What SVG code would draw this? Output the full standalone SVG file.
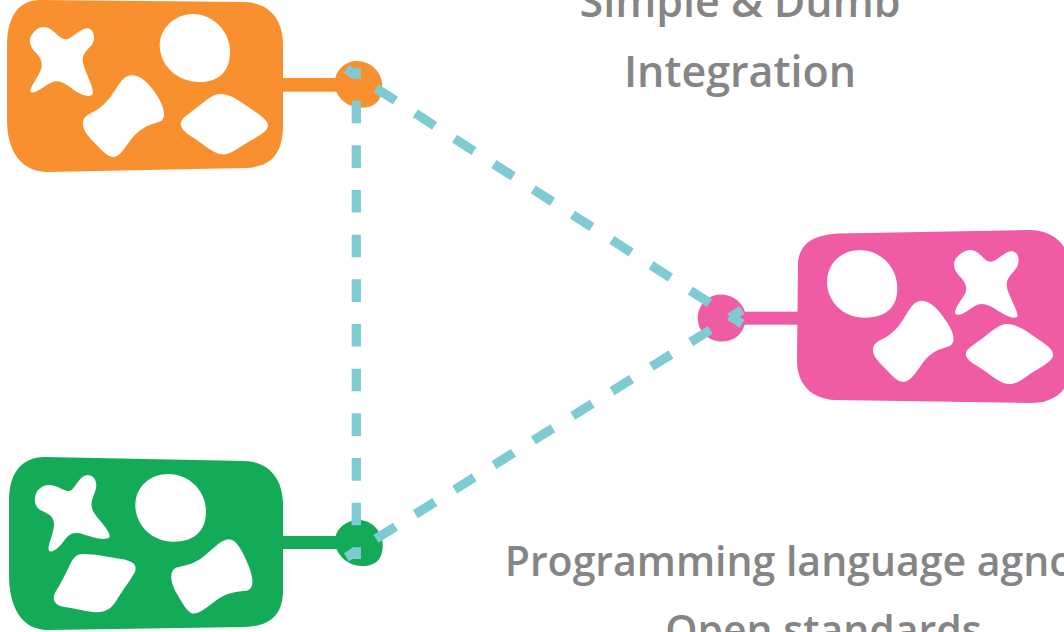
<svg xmlns="http://www.w3.org/2000/svg" width="1064" height="632" viewBox="0 0 1064 632">
<style>
.hole{fill:#fff}
.o{fill:#f8902f}.p{fill:#f05ca3}.g{fill:#14ab58}
.dash{fill:none;stroke:#7fcbd4;stroke-width:9.3}
text{font-family:"Open Sans","Noto Sans",sans-serif;font-weight:600;fill:#858585;text-anchor:middle}
.t1{font-size:43px}.t2{font-size:41px}
</style>
<g id="node-orange" class="o">
<path d="M40,0 L245,2 C270,3 283,20 283,45 L283,125 C283,155 270,167 245,168 L48,172 C20,172 7,150 7,120 L7,45 C7,15 20,0 40,0Z"/>
<rect x="280" y="78" width="60" height="13.7"/>
<path d="M356.7,61 C371.7,61 382.3,73.3 382.3,86 C382.3,98.3 376.7,107.7 361.7,107.7 C346.7,107.7 334.7,96.7 334.7,83.3 C334.7,70.7 345,61 356.7,61Z"/>
<g class="hole" transform="scale(.33333)">
<path d="M130,81 C160,80 175,118 198,118 C215,118 240,85 262,85 C280,85 290,115 275,135 C262,150 248,160 248,180 C248,205 285,265 278,282 C270,295 240,285 215,265 C195,250 180,240 160,245 C140,250 110,282 93,277 C85,270 105,245 118,220 C135,190 120,170 105,155 C90,140 85,120 95,105 C105,90 115,82 130,81Z"/>
<path d="M578,42 C640,42 690,95 690,155 C690,210 660,245 600,246 C530,246 479,195 479,135 C479,85 525,42 578,42Z"/>
<path d="M395,226 C425,225 450,255 470,285 C490,315 500,350 485,362 C465,372 440,370 405,405 C380,430 365,470 340,471 C320,470 300,445 275,420 C255,398 245,380 250,360 C258,340 285,340 315,310 C350,275 360,228 395,226Z"/>
<path d="M660,282 C690,282 715,300 750,325 C780,345 805,360 804,378 C800,398 770,410 735,432 C705,450 690,465 665,463 C640,460 620,440 590,420 C565,403 540,390 542,370 C545,352 570,340 600,315 C625,295 640,283 660,282Z"/>
</g>
</g>
<g id="node-pink" class="p">
<path d="M838,233.5 L1030,230 C1055,230 1072,248 1072,275 L1072,360 C1072,390 1055,403 1030,403 L835,400 C812,399 797,385 797,360 L798,262 C800,242 815,235 838,233.5Z"/>
<rect x="740" y="311.7" width="60" height="13"/>
<path d="M721,294.5 C735,294.5 745.7,306 745.7,317 C745.7,330 737,341.5 722,341.5 C708,341.5 697.7,331 697.7,318 C697.7,305 708,294.5 721,294.5Z"/>
<g class="hole" transform="translate(690,225) scale(.33333)">
<path d="M840,75 C870,75 880,110 902,110 C920,110 945,78 965,78 C985,80 995,110 975,135 C962,150 950,160 950,180 C950,205 988,260 982,275 C970,285 945,270 920,255 C900,240 880,232 860,240 C840,250 815,275 797,268 C790,260 805,235 820,215 C838,190 825,170 810,155 C795,140 785,120 798,100 C810,85 825,76 840,75Z"/>
<path d="M510,75 C570,75 622,125 622,190 C622,245 590,278 525,278 C460,278 411,230 411,170 C411,115 455,75 510,75Z"/>
<path d="M695,227 C725,227 750,260 770,290 C790,320 800,350 780,362 C760,372 735,370 705,405 C685,430 665,470 640,471 C620,470 600,445 575,420 C555,398 545,385 550,365 C558,345 585,345 615,315 C650,280 660,228 695,227Z"/>
<path d="M950,297 C980,297 1005,315 1040,340 C1070,360 1092,375 1089,393 C1085,410 1055,425 1020,447 C995,465 980,478 955,477 C930,475 910,455 880,435 C855,418 825,405 828,385 C830,368 860,355 890,330 C915,310 930,298 950,297Z"/>
</g>
</g>
<g id="node-green" class="g">
<path d="M45,457 L245,461 C270,462 283,480 283,505 L283,590 C283,615 270,626 245,627 L48,630 C20,630 9,605 9,575 L9,500 C9,475 20,457 45,457Z"/>
<rect x="280" y="536" width="60" height="13"/>
<path d="M359,520 C372,520 382.7,532 382.7,545 C382.7,558 377,566 362,566 C347,566 335,554 335,541 C335,529 346,520 359,520Z"/>
<g class="hole" transform="translate(0,450) scale(.33333)">
<path d="M262,75 C285,75 295,100 285,125 C275,150 270,165 280,185 C295,210 335,245 328,262 C315,275 270,260 240,250 C215,245 205,255 190,275 C175,295 155,310 147,302 C140,290 160,255 162,225 C163,200 145,190 125,182 C105,175 100,150 108,130 C118,110 140,100 165,108 C185,115 205,130 215,120 C230,105 240,77 262,75Z"/>
<path d="M505,72 C570,72 618,125 618,185 C618,240 585,275 520,275 C455,275 406,225 406,165 C406,110 450,72 505,72Z"/>
<path d="M245,312 C280,310 320,320 370,328 C400,335 412,345 405,365 C395,385 375,410 350,450 C335,478 310,490 280,486 C250,482 220,475 190,470 C165,465 155,450 165,428 C180,405 190,385 205,355 C215,330 225,314 245,312Z"/>
<path d="M685,268 C712,268 730,310 745,345 C760,385 765,415 740,422 C710,425 685,425 650,450 C620,472 595,495 575,490 C560,485 545,455 530,430 C515,405 505,370 525,355 C545,345 570,350 610,320 C640,298 660,270 685,268Z"/>
</g>
</g>
<g id="connectors">
<path class="dash" d="M346.4,69 L742,323.8" stroke-dasharray="23 23.74" stroke-dashoffset="11.5"/>
<path class="dash" d="M346.4,557.3 L742,310" stroke-dasharray="23 23.4" stroke-dashoffset="11.5"/>
<path class="dash" d="M356.3,68.3 L356.3,559" stroke-dasharray="22.6 22.07" stroke-dashoffset="12.3"/>
</g>
<g id="labels">
<text class="t1" x="740" y="17">Simple &amp; Dumb</text>
<text class="t1" x="740" y="87">Integration</text>
<text class="t2" x="823.5" y="576">Programming language agnostic</text>
<text class="t2" x="823.5" y="645">Open standards</text>
</g>
</svg>
